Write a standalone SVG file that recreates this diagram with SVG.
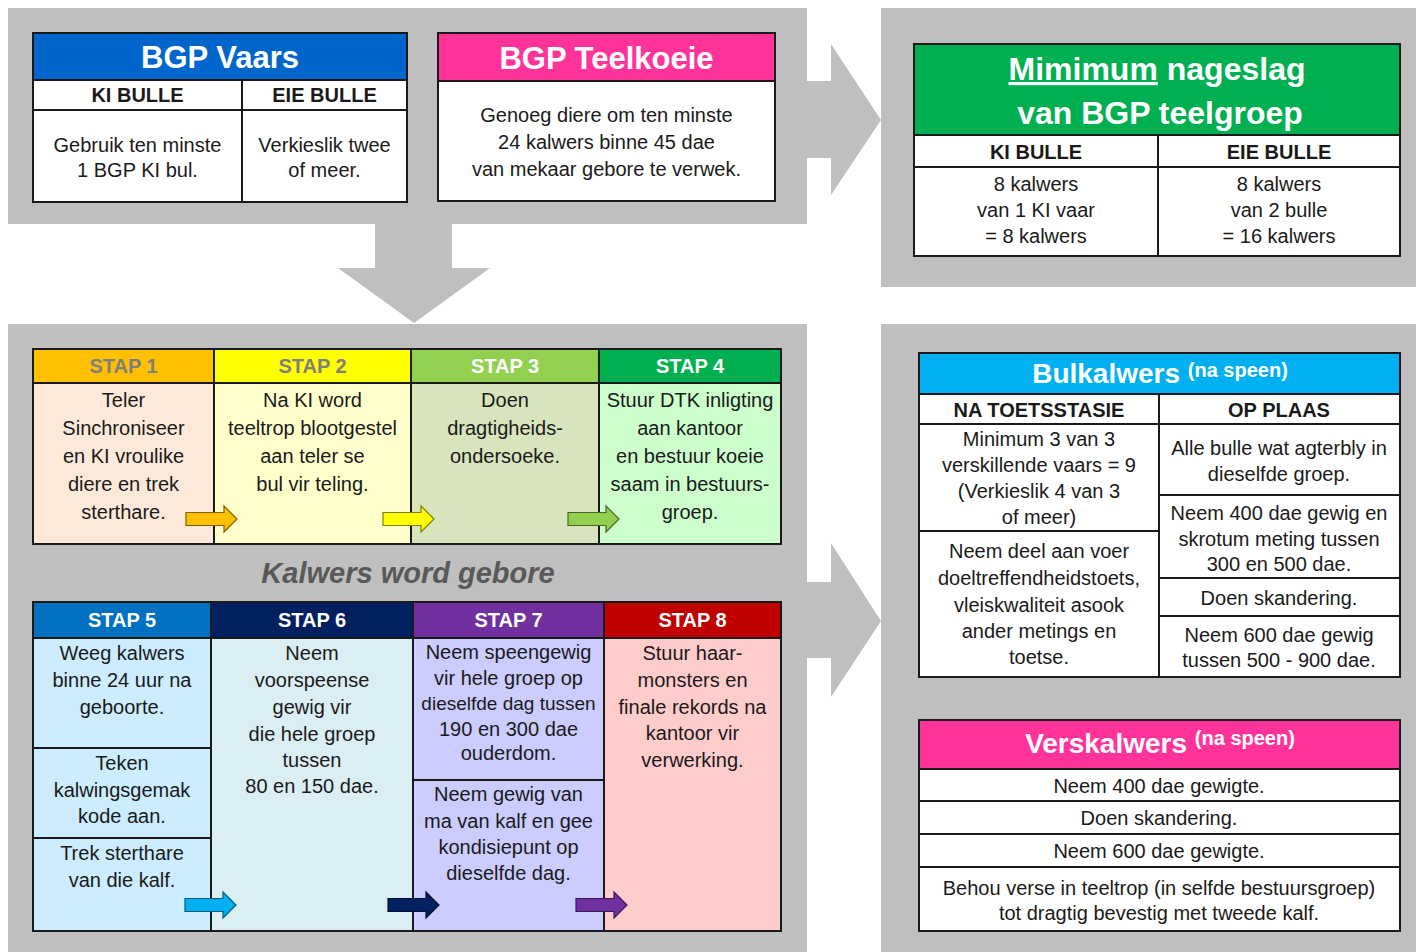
<svg xmlns="http://www.w3.org/2000/svg" width="1416" height="952" viewBox="0 0 1416 952">
<style>
.panel{fill:#BFBFBF}
.bd{fill:none;stroke:#1a1a1a;stroke-width:2}
.ln{stroke:#1a1a1a;stroke-width:2}
text{font-family:"Liberation Sans",Arial,sans-serif;text-anchor:middle}
.b{font-size:20px;fill:#1a1a1a}
.sh{font-size:20px;font-weight:bold;fill:#1a1a1a}
.st{font-size:20px;font-weight:bold;fill:#fff}
.stg{font-size:20px;font-weight:bold;fill:#7f7f7f}
.ti{font-size:31px;font-weight:bold;fill:#fff}
.t2{font-size:28px;font-weight:bold;fill:#fff}
</style>
<defs>
<path id="sa" d="M0,-6.5 H38 V-13 L51,0 L38,13 V6.5 H0 Z" stroke-width="1.2"/>
</defs>
<rect width="1416" height="952" fill="#fff"/>
<g id="panels">
<rect class="panel" x="8" y="8" width="799" height="216"/>
<rect class="panel" x="881" y="8" width="535" height="279"/>
<rect class="panel" x="8" y="324" width="799" height="628"/>
<rect class="panel" x="881" y="324" width="535" height="628"/>
</g>
<g id="connectors" fill="#BFBFBF">
<polygon points="375,223 452,223 452,268 490,268 414,323 338,268 375,268"/>
<polygon points="806,81 831,81 831,44 881,120 831,195 831,158 806,158"/>
<polygon points="806,582 831,582 831,543 881,621 831,697 831,658 806,658"/>
</g>
<g id="bgp-vaars">
<rect x="33" y="33" width="374" height="47" fill="#0066CC"/>
<rect x="33" y="80" width="374" height="122" fill="#fff"/>
<rect class="bd" x="33" y="33" width="374" height="169"/>
<line class="ln" x1="33" y1="80" x2="407" y2="80"/>
<line class="ln" x1="33" y1="110" x2="407" y2="110"/>
<line class="ln" x1="242" y1="80" x2="242" y2="202"/>
<text class="ti" x="220" y="68">BGP Vaars</text>
<text class="sh" x="137.5" y="102">KI BULLE</text>
<text class="sh" x="324.5" y="102">EIE BULLE</text>
<text class="b" x="137.5" y="152">Gebruik ten minste</text>
<text class="b" x="137.5" y="177">1 BGP KI bul.</text>
<text class="b" x="324.5" y="152">Verkieslik twee</text>
<text class="b" x="324.5" y="177">of meer.</text>
</g>
<g id="bgp-teelkoeie">
<rect x="438" y="33" width="337" height="48" fill="#FF3399"/>
<rect x="438" y="81" width="337" height="120" fill="#fff"/>
<rect class="bd" x="438" y="33" width="337" height="168"/>
<line class="ln" x1="438" y1="81" x2="775" y2="81"/>
<text class="ti" x="606.5" y="69">BGP Teelkoeie</text>
<text class="b" x="606.5" y="122">Genoeg diere om ten minste</text>
<text class="b" x="606.5" y="149">24 kalwers binne 45 dae</text>
<text class="b" x="606.5" y="176">van mekaar gebore te verwek.</text>
</g>
<g id="minimum-nageslag">
<rect x="914" y="44" width="486" height="91" fill="#00B050"/>
<rect x="914" y="135" width="486" height="121" fill="#fff"/>
<rect class="bd" x="914" y="44" width="486" height="212"/>
<line class="ln" x1="914" y1="135" x2="1400" y2="135"/>
<line class="ln" x1="914" y1="167" x2="1400" y2="167"/>
<line class="ln" x1="1158" y1="135" x2="1158" y2="256"/>
<text x="1157" y="80" font-size="32" font-weight="bold" fill="#fff"><tspan style="text-decoration:underline">Mimimum</tspan> nageslag</text>
<text x="1160" y="124" font-size="32" font-weight="bold" fill="#fff">van BGP teelgroep</text>
<text class="sh" x="1036" y="159">KI BULLE</text>
<text class="sh" x="1279" y="159">EIE BULLE</text>
<text class="b" x="1036" y="191">8 kalwers</text>
<text class="b" x="1036" y="217">van 1 KI vaar</text>
<text class="b" x="1036" y="243">= 8 kalwers</text>
<text class="b" x="1279" y="191">8 kalwers</text>
<text class="b" x="1279" y="217">van 2 bulle</text>
<text class="b" x="1279" y="243">= 16 kalwers</text>
</g>
<g id="stap1">
<rect x="33" y="349" width="181" height="34" fill="#FFC000"/>
<rect x="33" y="383" width="181" height="161" fill="#FDE9D9"/>
<text class="stg" x="123.5" y="373">STAP 1</text>
<text class="b" x="123.5" y="407">Teler</text>
<text class="b" x="123.5" y="435">Sinchroniseer</text>
<text class="b" x="123.5" y="463">en KI vroulike</text>
<text class="b" x="123.5" y="491">diere en trek</text>
<text class="b" x="123.5" y="519">sterthare.</text>
</g>
<g id="stap2">
<rect x="214" y="349" width="197" height="34" fill="#FFFF00"/>
<rect x="214" y="383" width="197" height="161" fill="#FFFFCC"/>
<text class="stg" x="312.5" y="373">STAP 2</text>
<text class="b" x="312.5" y="407">Na KI word</text>
<text class="b" x="312.5" y="435">teeltrop blootgestel</text>
<text class="b" x="312.5" y="463">aan teler se</text>
<text class="b" x="312.5" y="491">bul vir teling.</text>
</g>
<g id="stap3">
<rect x="411" y="349" width="188" height="34" fill="#92D050"/>
<rect x="411" y="383" width="188" height="161" fill="#D8E4BC"/>
<text class="st" x="505" y="373">STAP 3</text>
<text class="b" x="505" y="407">Doen</text>
<text class="b" x="505" y="435">dragtigheids-</text>
<text class="b" x="505" y="463">ondersoeke.</text>
</g>
<g id="stap4">
<rect x="599" y="349" width="182" height="34" fill="#00B050"/>
<rect x="599" y="383" width="182" height="161" fill="#CCFFCC"/>
<text class="st" x="690" y="373">STAP 4</text>
<text class="b" x="690" y="407">Stuur DTK inligting</text>
<text class="b" x="690" y="435">aan kantoor</text>
<text class="b" x="690" y="463">en bestuur koeie</text>
<text class="b" x="690" y="491">saam in bestuurs-</text>
<text class="b" x="690" y="519">groep.</text>
</g>
<g id="row1-grid">
<rect class="bd" x="33" y="349" width="748" height="195"/>
<line class="ln" x1="33" y1="383" x2="781" y2="383"/>
<line class="ln" x1="214" y1="349" x2="214" y2="544"/>
<line class="ln" x1="411" y1="349" x2="411" y2="544"/>
<line class="ln" x1="599" y1="349" x2="599" y2="544"/>
</g>
<g id="kalwers-gebore">
<text x="408" y="583" font-size="29" font-weight="bold" font-style="italic" fill="#595959">Kalwers word gebore</text>
</g>
<g id="stap5">
<rect x="33" y="602" width="178" height="36" fill="#0070C0"/>
<rect x="33" y="638" width="178" height="293" fill="#CCECFF"/>
<text class="st" x="122" y="627">STAP 5</text>
<text class="b" x="122" y="660">Weeg kalwers</text>
<text class="b" x="122" y="687">binne 24 uur na</text>
<text class="b" x="122" y="714">geboorte.</text>
<text class="b" x="122" y="770">Teken</text>
<text class="b" x="122" y="797">kalwingsgemak</text>
<text class="b" x="122" y="823">kode aan.</text>
<text class="b" x="122" y="860">Trek sterthare</text>
<text class="b" x="122" y="887">van die kalf.</text>
</g>
<g id="stap6">
<rect x="211" y="602" width="202" height="36" fill="#002060"/>
<rect x="211" y="638" width="202" height="293" fill="#DAEEF3"/>
<text class="st" x="312" y="627">STAP 6</text>
<text class="b" x="312" y="660">Neem</text>
<text class="b" x="312" y="687">voorspeense</text>
<text class="b" x="312" y="714">gewig vir</text>
<text class="b" x="312" y="741">die hele groep</text>
<text class="b" x="312" y="767">tussen</text>
<text class="b" x="312" y="793">80 en 150 dae.</text>
</g>
<g id="stap7">
<rect x="413" y="602" width="191" height="36" fill="#7030A0"/>
<rect x="413" y="638" width="191" height="293" fill="#CCCCFF"/>
<text class="st" x="508.5" y="627">STAP 7</text>
<text class="b" x="508.5" y="659">Neem speengewig</text>
<text class="b" x="508.5" y="685">vir hele groep op</text>
<text class="b" x="508.5" y="710" style="font-size:19px">dieselfde dag tussen</text>
<text class="b" x="508.5" y="736">190 en 300 dae</text>
<text class="b" x="508.5" y="760">ouderdom.</text>
<text class="b" x="508.5" y="801">Neem gewig van</text>
<text class="b" x="508.5" y="828">ma van kalf en gee</text>
<text class="b" x="508.5" y="854">kondisiepunt op</text>
<text class="b" x="508.5" y="880">dieselfde dag.</text>
</g>
<g id="stap8">
<rect x="604" y="602" width="177" height="36" fill="#C00000"/>
<rect x="604" y="638" width="177" height="293" fill="#FFCCCC"/>
<text class="st" x="692.5" y="627">STAP 8</text>
<text class="b" x="692.5" y="660">Stuur haar-</text>
<text class="b" x="692.5" y="687">monsters en</text>
<text class="b" x="692.5" y="714">finale rekords na</text>
<text class="b" x="692.5" y="740">kantoor vir</text>
<text class="b" x="692.5" y="767">verwerking.</text>
</g>
<g id="row2-grid">
<rect class="bd" x="33" y="602" width="748" height="329"/>
<line class="ln" x1="33" y1="638" x2="781" y2="638"/>
<line class="ln" x1="211" y1="602" x2="211" y2="931"/>
<line class="ln" x1="413" y1="602" x2="413" y2="931"/>
<line class="ln" x1="604" y1="602" x2="604" y2="931"/>
<line class="ln" x1="33" y1="748" x2="211" y2="748"/>
<line class="ln" x1="33" y1="838" x2="211" y2="838"/>
<line class="ln" x1="413" y1="780" x2="604" y2="780"/>
</g>
<g id="step-arrows">
<use href="#sa" x="186" y="519" fill="#FFC000" stroke="#7F6000"/>
<use href="#sa" x="383" y="519" fill="#FFFF00" stroke="#7F7F00"/>
<use href="#sa" x="568" y="519" fill="#92D050" stroke="#4F6228"/>
<use href="#sa" x="185" y="905" fill="#00B0F0" stroke="#005E80"/>
<use href="#sa" x="388" y="905" fill="#002060" stroke="#001030"/>
<use href="#sa" x="576" y="905" fill="#7030A0" stroke="#3A1855"/>
</g>
<g id="bulkalwers">
<rect x="919" y="353" width="481" height="41" fill="#00B0F0"/>
<rect x="919" y="394" width="481" height="283" fill="#fff"/>
<rect class="bd" x="919" y="353" width="481" height="324"/>
<line class="ln" x1="919" y1="394" x2="1400" y2="394"/>
<line class="ln" x1="919" y1="424" x2="1400" y2="424"/>
<line class="ln" x1="1159" y1="394" x2="1159" y2="677"/>
<line class="ln" x1="919" y1="531" x2="1159" y2="531"/>
<line class="ln" x1="1159" y1="495" x2="1400" y2="495"/>
<line class="ln" x1="1159" y1="578" x2="1400" y2="578"/>
<line class="ln" x1="1159" y1="616" x2="1400" y2="616"/>
<text class="t2" x="1160" y="383">Bulkalwers <tspan font-size="20" dy="-6">(na speen)</tspan></text>
<text class="sh" x="1039" y="417">NA TOETSSTASIE</text>
<text class="sh" x="1279" y="417">OP PLAAS</text>
<text class="b" x="1039" y="446">Minimum 3 van 3</text>
<text class="b" x="1039" y="472">verskillende vaars = 9</text>
<text class="b" x="1039" y="498">(Verkieslik 4 van 3</text>
<text class="b" x="1039" y="524">of meer)</text>
<text class="b" x="1039" y="558">Neem deel aan voer</text>
<text class="b" x="1039" y="585">doeltreffendheidstoets,</text>
<text class="b" x="1039" y="612">vleiskwaliteit asook</text>
<text class="b" x="1039" y="638">ander metings en</text>
<text class="b" x="1039" y="664">toetse.</text>
<text class="b" x="1279" y="455">Alle bulle wat agterbly in</text>
<text class="b" x="1279" y="481">dieselfde groep.</text>
<text class="b" x="1279" y="520">Neem 400 dae gewig en</text>
<text class="b" x="1279" y="546">skrotum meting tussen</text>
<text class="b" x="1279" y="571">300 en 500 dae.</text>
<text class="b" x="1279" y="605">Doen skandering.</text>
<text class="b" x="1279" y="642">Neem 600 dae gewig</text>
<text class="b" x="1279" y="667">tussen 500 - 900 dae.</text>
</g>
<g id="verskalwers">
<rect x="919" y="720" width="481" height="49" fill="#FF3399"/>
<rect x="919" y="769" width="481" height="162" fill="#fff"/>
<rect class="bd" x="919" y="720" width="481" height="211"/>
<line class="ln" x1="919" y1="769" x2="1400" y2="769"/>
<line class="ln" x1="919" y1="801" x2="1400" y2="801"/>
<line class="ln" x1="919" y1="834" x2="1400" y2="834"/>
<line class="ln" x1="919" y1="867" x2="1400" y2="867"/>
<text class="t2" x="1160" y="753">Verskalwers <tspan font-size="20" dy="-8">(na speen)</tspan></text>
<text class="b" x="1159" y="793">Neem 400 dae gewigte.</text>
<text class="b" x="1159" y="825">Doen skandering.</text>
<text class="b" x="1159" y="858">Neem 600 dae gewigte.</text>
<text class="b" x="1159" y="895">Behou verse in teeltrop (in selfde bestuursgroep)</text>
<text class="b" x="1159" y="920">tot dragtig bevestig met tweede kalf.</text>
</g>
</svg>
